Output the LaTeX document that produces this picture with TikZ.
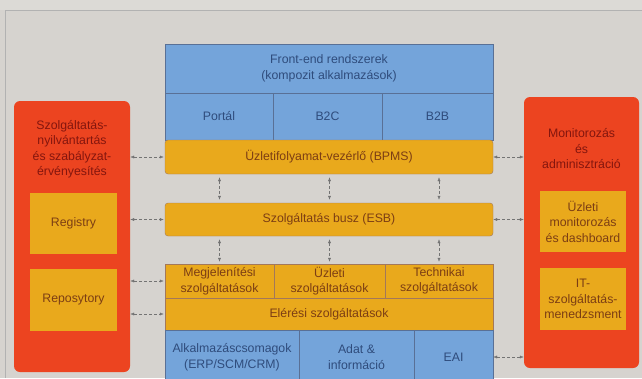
\documentclass[tikz,border=0pt]{standalone}
\usepackage{fontspec}
\setmainfont{Liberation Sans}
\usepackage{tikz}
\usetikzlibrary{arrows.meta, positioning}
\definecolor{pagegray}{HTML}{D6D3CF}
\definecolor{layerblue}{HTML}{74A4DA}
\definecolor{layeryellow}{HTML}{E9A91C}
\definecolor{panelred}{HTML}{EC4420}
\definecolor{bluetext}{HTML}{2F4C7C}
\definecolor{browntext}{HTML}{7C3E14}
\definecolor{redtext}{HTML}{84160E}

\begin{document}
\begin{tikzpicture}[x=1pt, y=-1pt, font=\fontsize{12.3}{15.5}\selectfont,
    bluecell/.style={draw=bluetext!80, fill=layerblue, text=bluetext, align=center, inner sep=0pt},
    yelcell/.style={draw=browntext!70, fill=layeryellow, text=browntext, align=center, inner sep=0pt},
    yelbar/.style={yelcell, rounded corners=3pt, minimum width=328pt},
    panel/.style={fill=panelred, rounded corners=6pt, inner sep=0pt},
    panelbox/.style={fill=layeryellow, text=browntext, align=center, inner sep=0pt},
    conn/.style={densely dashed, black!55, thin, {Latex[length=4pt,width=3pt]}-{Latex[length=4pt,width=3pt]}}]
    \clip (0, 0) rectangle (642, 378);

    % Page
    \fill[pagegray] (0, 0) rectangle (642, 378);
    \fill[pagegray!85!white] (0, 0) rectangle (642, 10);
    \draw[black!30] (642, 10) -- (5, 10) -- (5, 378);

    % Front-end layer
    \node[bluecell, minimum width=328pt, minimum height=49pt] (front) at (329, 68.5) {Front-end rendszerek\\(kompozit alkalmazások)};
    \node[bluecell, minimum width=108pt, minimum height=47pt] (portal) at (219, 116.5) {Portál};
    \node[bluecell, minimum width=109pt, minimum height=47pt] (b2c) at (327.5, 116.5) {B2C};
    \node[bluecell, minimum width=111pt, minimum height=47pt] (b2b) at (437.5, 116.5) {B2B};

    % Process and bus
    \node[yelbar, minimum height=34pt] (bpms) at (329, 157) {Üzletifolyamat-vezérlő (BPMS)};
    \node[yelbar, minimum height=33pt] (esb) at (329, 219.5) {Szolgáltatás busz (ESB)};

    % Services
    \node[yelcell, minimum width=109pt, minimum height=34pt] (megj) at (219.5, 281) {Megjelenítési\\szolgáltatások};
    \node[yelcell, minimum width=111pt, minimum height=34pt] (uzl) at (329.5, 281) {Üzleti\\szolgáltatások};
    \node[yelcell, minimum width=108pt, minimum height=34pt] (tech) at (439, 281) {Technikai\\szolgáltatások};
    \node[yelcell, minimum width=328pt, minimum height=32pt] (eler) at (329, 314) {Elérési szolgáltatások};

    % Back-end layer
    \node[bluecell, minimum width=134pt, minimum height=54pt] (alk) at (232, 357) {Alkalmazáscsomagok\\(ERP/SCM/CRM)};
    \node[bluecell, minimum width=115pt, minimum height=54pt] (adat) at (356.5, 357) {Adat \&\\információ};
    \node[bluecell, minimum width=79pt, minimum height=54pt] (eai) at (453.5, 357) {EAI};

    % Left panel
    \node[panel, minimum width=116pt, minimum height=271pt] (lpanel) at (72, 236.5) {};
    \node[text=redtext, align=center] (ltitle) at (72, 149) {Szolgáltatás-\\nyilvántartás\\és szabályzat-\\érvényesítés};
    \node[panelbox, minimum width=87pt, minimum height=61pt] (registry) at (73.5, 223.5) {Registry};
    \node[panelbox, minimum width=87pt, minimum height=62pt] (repo) at (73.5, 300) {Reposytory};

    % Right panel
    \node[panel, minimum width=115pt, minimum height=271pt] (rpanel) at (581.5, 232.5) {};
    \node[text=redtext, align=center] (rtitle) at (581.5, 149) {Monitorozás\\és\\adminisztráció};
    \node[panelbox, minimum width=86pt, minimum height=61pt] (uzlmon) at (583, 221.5) {Üzleti\\monitorozás\\és dashboard};
    \node[panelbox, minimum width=86pt, minimum height=62pt] (itsm) at (583, 299) {IT-\\szolgáltatás-\\menedzsment};

    % Vertical links
    \foreach \c in {megj, uzl, tech}{
        \draw[conn] (\c.north |- bpms.south) ++(0, 3) -- ([yshift=3pt]\c.north |- esb.north);
        \draw[conn] (\c.north |- esb.south) ++(0, 3) -- ([yshift=2pt]\c.north);
    }

    % Links to the panels
    \foreach \b in {bpms, esb, megj, eler}{
        \draw[conn] (\b.west -| lpanel.east) -- ([xshift=-1pt]\b.west -| front.west);
    }
    \foreach \b in {bpms, esb, eai}{
        \draw[conn] (\b.east -| front.east) -- (\b.east -| rpanel.west);
    }
\end{tikzpicture}
\end{document}
